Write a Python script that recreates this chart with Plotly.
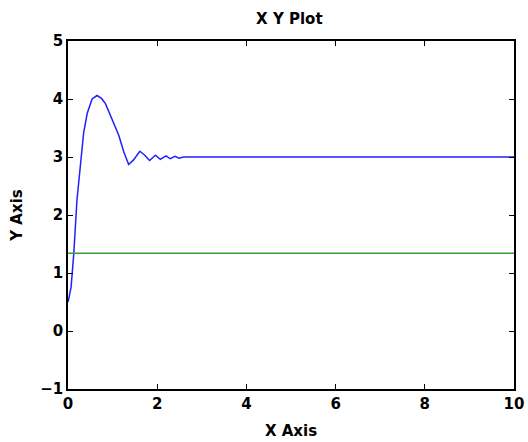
import plotly.graph_objects as go

# Blue response curve
x_blue = [0.0, 0.01, 0.07, 0.13, 0.20, 0.28, 0.35, 0.43, 0.54, 0.65, 0.75, 0.84, 0.99,
          1.14, 1.25, 1.36, 1.47, 1.61, 1.71, 1.83, 1.96, 2.07, 2.20, 2.29, 2.40,
          2.49, 2.59, 4.0, 6.0, 8.0, 10.0]
y_blue = [0.50, 0.53, 0.76, 1.34, 2.25, 2.83, 3.41, 3.75, 4.00, 4.06, 4.01, 3.92, 3.66,
          3.37, 3.09, 2.87, 2.95, 3.10, 3.04, 2.94, 3.03, 2.96, 3.02, 2.97, 3.01,
          2.98, 3.00, 3.00, 3.00, 3.00, 3.00]

# Green constant line
x_green = [0, 10]
y_green = [1.34, 1.34]

x_ticks = [0, 2, 4, 6, 8, 10]
y_ticks = [-1, 0, 1, 2, 3, 4, 5]

fig = go.Figure()
fig.add_trace(go.Scatter(x=x_blue, y=y_blue, mode="lines",
                         line=dict(color="#2020ff", width=1.5), showlegend=False))
fig.add_trace(go.Scatter(x=x_green, y=y_green, mode="lines",
                         line=dict(color="#33a033", width=1.5), showlegend=False))

font_family = "DejaVu Sans, Liberation Sans, Arial, sans-serif"
axis_common = dict(showgrid=False, zeroline=False, showline=True, linecolor="black",
                   linewidth=1.5, mirror="ticks", ticks="inside", ticklen=5,
                   tickcolor="black", tickwidth=1.2,
                   tickfont=dict(family=font_family, size=15, color="black", weight="bold"))

fig.update_layout(
    width=528, height=442,
    margin=dict(l=68, r=14, t=41, b=53, autoexpand=False),
    paper_bgcolor="white", plot_bgcolor="white",
    title=dict(text="X Y Plot", x=0.548, xanchor="center", y=0.957, yanchor="middle",
               font=dict(family=font_family, size=15, color="black", weight="bold")),
    xaxis=dict(range=[0, 10], tickvals=x_ticks,
               title=dict(text="X Axis", standoff=14,
                          font=dict(family=font_family, size=15, color="black", weight="bold")),
               **axis_common),
    yaxis=dict(range=[-1, 5], tickvals=y_ticks,
               title=dict(text="Y Axis", standoff=14,
                          font=dict(family=font_family, size=15, color="black", weight="bold")),
               **axis_common),
)

fig.write_html("out.html", config={"displayModeBar": False},
               post_script="document.body.style.margin='0px';")
